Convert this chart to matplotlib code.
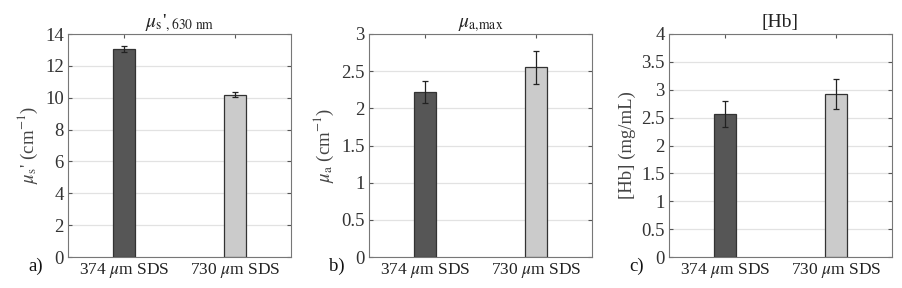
import matplotlib
matplotlib.use("Agg")
import matplotlib.pyplot as plt

plt.rcParams['font.family'] = ['Liberation Serif', 'DejaVu Serif']
plt.rcParams['mathtext.fontset'] = 'stix'

# data
groups = ['374 $\\mu$m SDS', '730 $\\mu$m SDS']
mus_vals = [13.05, 10.2]
mus_err = [0.2, 0.15]
mua_vals = [2.22, 2.55]
mua_err = [0.15, 0.22]
hb_vals = [2.56, 2.92]
hb_err = [0.23, 0.27]

bar_colors = ['#565656', '#cbcbcb']
fs = 12.5

panels = [
    (mus_vals, mus_err, r"$\mu_\mathrm{s}$'$_{,630\ \mathrm{nm}}$", r"$\mu_\mathrm{s}$' (cm$^{-1}$)",
     (0, 14), [0, 2, 4, 6, 8, 10, 12, 14], ['0', '2', '4', '6', '8', '10', '12', '14'], 'a)'),
    (mua_vals, mua_err, r"$\mu_\mathrm{a{,}max}$", r"$\mu_\mathrm{a}$ (cm$^{-1}$)",
     (0, 3), [0, 0.5, 1, 1.5, 2, 2.5, 3], ['0', '0.5', '1', '1.5', '2', '2.5', '3'], 'b)'),
    (hb_vals, hb_err, "[Hb]", "[Hb] (mg/mL)",
     (0, 4), [0, 0.5, 1, 1.5, 2, 2.5, 3, 3.5, 4], ['0', '0.5', '1', '1.5', '2', '2.5', '3', '3.5', '4'], 'c)'),
]

fig = plt.figure(figsize=(9.03, 2.88), dpi=100)
lefts = [68, 369, 669]
W, H = 903, 288

for (vals, errs, title, ylabel, ylim, yticks, yticklabels, tag), left in zip(panels, lefts):
    ax = fig.add_axes([left / W, (H - 257) / H, 223 / W, (257 - 34) / H])
    x = [1, 2]
    ax.bar(x, vals, width=0.2, color=bar_colors, edgecolor='#333333', linewidth=0.9, zorder=3)
    ax.errorbar(x, vals, yerr=errs, fmt='none', ecolor='#222222', elinewidth=0.9,
                capsize=2.5, capthick=0.9, zorder=4)
    ax.set_xlim(0.5, 2.5)
    ax.set_ylim(*ylim)
    ax.set_xticks(x)
    ax.set_xticklabels(groups, fontsize=fs, color='#222222')
    ax.set_yticks(yticks)
    ax.set_yticklabels(yticklabels, fontsize=13.5, color='#333333')
    ax.yaxis.grid(True, color='#e2e2e2', linewidth=0.9, zorder=0)
    ax.set_axisbelow(True)
    ax.tick_params(direction='in', length=3, color='#555555', top=True, right=True, pad=3)
    for s in ax.spines.values():
        s.set_color('#777777')
        s.set_linewidth(0.8)
    ax.set_title(title, fontsize=14, color='#222222', pad=5)
    ax.set_ylabel(ylabel, fontsize=13.5, color='#444444', labelpad=4)
    fig.text((left - 40) / W, (H - 266) / H, tag, fontsize=fs + 1, color='#111111',
             ha='left', va='center')

fig.savefig('out.png', dpi=100, facecolor='white')
